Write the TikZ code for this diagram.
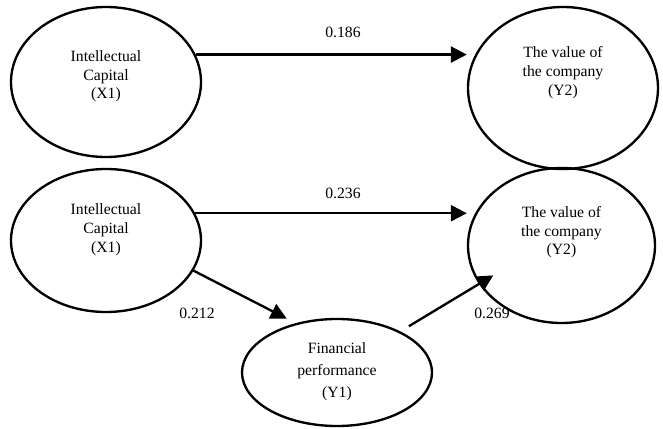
\documentclass[tikz,border=0pt]{standalone}
\usepackage{fontspec}
\setmainfont{Liberation Serif}
\usetikzlibrary{shapes.geometric}
\usetikzlibrary{arrows.meta}

% lines of a variable, raised inside its ellipse
\newcommand{\vartext}[2]{\raisebox{#1}[0pt][0pt]{\begin{tabular}{@{}c@{}}#2\end{tabular}}}

\tikzset{
  var/.style={ellipse,draw,line width=2pt,inner sep=0pt,
    font=\fontsize{13.4}{16}\selectfont},
  effect/.style={line width=2pt,-{Triangle[length=0.48cm,width=0.48cm]}},
  coef/.style={font=\fontsize{13.4}{16}\selectfont}
}

\begin{document}
\begin{tikzpicture}
\useasboundingbox (0,0) rectangle (19.89,12.84);

% direct effect
\node[var,minimum width=5.7cm,minimum height=4.5cm] (X1a) at (3.18,10.38) {\vartext{0.04cm}{Intellectual\\Capital\\(X1)}};
\node[var,minimum width=5.7cm,minimum height=4.86cm] (Y2a) at (16.89,10.2) {\vartext{0.33cm}{The value of\\the company\\(Y2)}};

% with mediator
\node[var,minimum width=5.7cm,minimum height=4.29cm] (X1b) at (3.18,5.625) {\vartext{0.2cm}{Intellectual\\Capital\\(X1)}};
\node[var,minimum width=5.61cm,minimum height=4.65cm] (Y2b) at (16.845,5.475) {\vartext{0.27cm}{The value of\\the company\\(Y2)}};
\node[var,minimum width=5.7cm,minimum height=3.21cm] (Y1) at (10.11,1.665) {\vartext{-0.1cm}{Financial\\[2.8pt]performance\\[2.8pt](Y1)}};

\draw[effect] (X1a.17) -- (X1a.17 -| Y2a.west);
\draw[effect] (X1b.17) -- (X1b.17 -| Y2b.west);
\draw[effect,shorten >=0.3cm] (X1b.-19) -- (Y1.130);
\draw[effect,shorten <=0.3cm,shorten >=-0.5cm] (Y1.33) -- (Y2b.205);

\node[coef] (c1) at (10.29,11.88) {0.186};
\node[coef] (c2) at (10.29,7.05) {0.236};
\node[coef] (c3) at (5.91,3.45) {0.212};
\node[coef] (c4) at (14.76,3.45) {0.269};

\end{tikzpicture}
\end{document}
